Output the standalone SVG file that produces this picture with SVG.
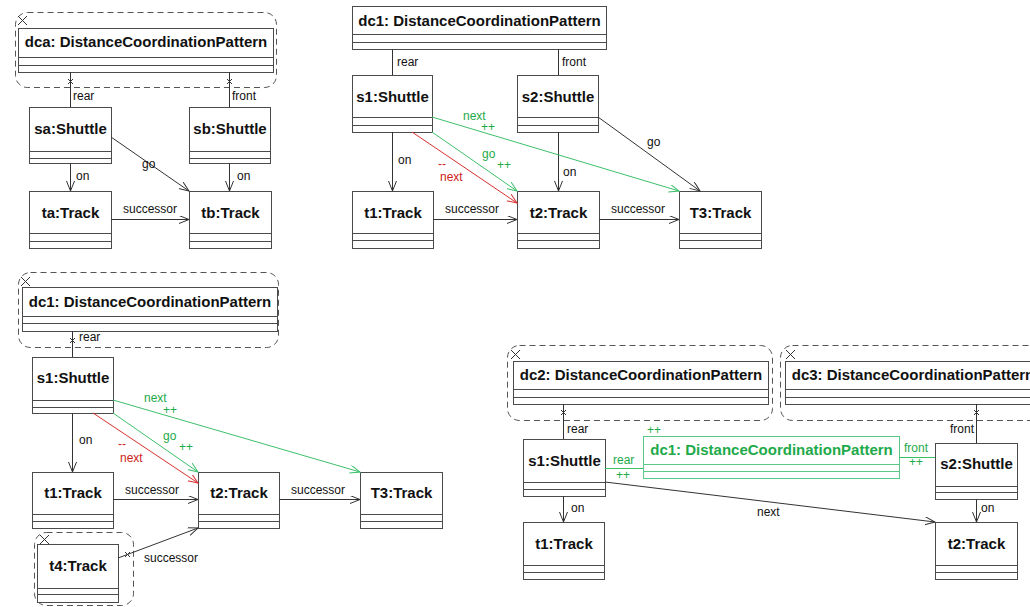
<svg xmlns="http://www.w3.org/2000/svg" width="1030" height="607" viewBox="0 0 1030 607">
  <style>
    .box { fill: #ffffff; stroke: #4a4a4a; stroke-width: 1; }
    .sep { stroke: #4a4a4a; stroke-width: 1; }
    .gbox { fill: #ffffff; stroke: #5cc887; stroke-width: 1; }
    .gsep { stroke: #5cc887; stroke-width: 1; }
    .cont { fill: none; stroke: #555555; stroke-width: 1; stroke-dasharray: 6 4; }
    .name { font-family: "Liberation Sans", Arial, sans-serif; font-size: 15px; font-weight: bold; fill: #111111; text-anchor: middle; }
    .gname { font-family: "Liberation Sans", Arial, sans-serif; font-size: 15px; font-weight: bold; fill: #1eaa4a; text-anchor: middle; }
    .lbl { font-family: "Liberation Sans", Arial, sans-serif; font-size: 12px; fill: #111111; }
    .glbl { font-family: "Liberation Sans", Arial, sans-serif; font-size: 12px; fill: #1eaa4a; }
    .rlbl { font-family: "Liberation Sans", Arial, sans-serif; font-size: 12px; fill: #cc2222; }
    .edge { fill: none; stroke: #333333; stroke-width: 1; }
    .gedge { fill: none; stroke: #3dbf6a; stroke-width: 1; }
    .redge { fill: none; stroke: #d83030; stroke-width: 1; }
    .xm { stroke: #333333; stroke-width: 1; }
  </style>
  <defs>
    <marker id="arr" markerUnits="userSpaceOnUse" markerWidth="12" markerHeight="10" refX="10" refY="4" orient="auto">
      <path d="M0,0 L10,4 L0,8" fill="none" stroke="#333333" stroke-width="1"/>
    </marker>
    <marker id="garr" markerUnits="userSpaceOnUse" markerWidth="12" markerHeight="10" refX="10" refY="4" orient="auto">
      <path d="M0,0 L10,4 L0,8" fill="none" stroke="#3dbf6a" stroke-width="1"/>
    </marker>
    <marker id="rarr" markerUnits="userSpaceOnUse" markerWidth="12" markerHeight="10" refX="10" refY="4" orient="auto">
      <path d="M0,0 L10,4 L0,8" fill="none" stroke="#d83030" stroke-width="1"/>
    </marker>
  </defs>
  <rect width="1030" height="607" fill="#ffffff"/>

  <!-- ===== upper left pattern ===== -->
  <g id="tl-dca">
    <rect class="cont" x="15.5" y="12.5" width="261" height="75" rx="12"/>
    <path class="xm" d="M18,16 L27,25 M27,16 L18,25"/>
    <rect class="box" x="18.5" y="28.5" width="255" height="44"/>
    <line class="sep" x1="18.5" y1="57.5" x2="273.5" y2="57.5"/>
    <line class="sep" x1="18.5" y1="65.5" x2="273.5" y2="65.5"/>
    <text class="name" x="146" y="47">dca: DistanceCoordinationPattern</text>
  </g>
  <g id="tl-sa">
    <rect class="box" x="29.5" y="107.5" width="82" height="56"/>
    <line class="sep" x1="29.5" y1="151.5" x2="111.5" y2="151.5"/>
    <line class="sep" x1="29.5" y1="158.5" x2="111.5" y2="158.5"/>
    <text class="name" x="70.5" y="134">sa:Shuttle</text>
  </g>
  <g id="tl-sb">
    <rect class="box" x="189.5" y="107.5" width="81" height="56"/>
    <line class="sep" x1="189.5" y1="151.5" x2="270.5" y2="151.5"/>
    <line class="sep" x1="189.5" y1="158.5" x2="270.5" y2="158.5"/>
    <text class="name" x="230" y="134">sb:Shuttle</text>
  </g>
  <g id="tl-ta">
    <rect class="box" x="29.5" y="191.5" width="82" height="57"/>
    <line class="sep" x1="29.5" y1="233.5" x2="111.5" y2="233.5"/>
    <line class="sep" x1="29.5" y1="241.5" x2="111.5" y2="241.5"/>
    <text class="name" x="70.5" y="218">ta:Track</text>
  </g>
  <g id="tl-tb">
    <rect class="box" x="189.5" y="191.5" width="82" height="57"/>
    <line class="sep" x1="189.5" y1="233.5" x2="271.5" y2="233.5"/>
    <line class="sep" x1="189.5" y1="241.5" x2="271.5" y2="241.5"/>
    <text class="name" x="230.5" y="218">tb:Track</text>
  </g>
  <g id="tl-edges">
    <line class="edge" x1="70.5" y1="72" x2="70.5" y2="107"/>
    <path class="xm" d="M68,79 L73,84 M73,79 L68,84"/>
    <text class="lbl" x="73" y="100">rear</text>
    <line class="edge" x1="229.5" y1="72" x2="229.5" y2="107"/>
    <path class="xm" d="M227,79 L232,84 M232,79 L227,84"/>
    <text class="lbl" x="232" y="100">front</text>
    <line class="edge" x1="70.5" y1="163" x2="70.5" y2="191" marker-end="url(#arr)"/>
    <text class="lbl" x="76" y="180">on</text>
    <line class="edge" x1="229.5" y1="163" x2="229.5" y2="191" marker-end="url(#arr)"/>
    <text class="lbl" x="237" y="180">on</text>
    <line class="edge" x1="111" y1="137" x2="189" y2="191" marker-end="url(#arr)"/>
    <text class="lbl" x="142" y="168">go</text>
    <line class="edge" x1="111" y1="219.5" x2="189" y2="219.5" marker-end="url(#arr)"/>
    <text class="lbl" x="123" y="213">successor</text>
  </g>

  <!-- ===== upper middle pattern ===== -->
  <g id="tm-dc1">
    <rect class="box" x="352.5" y="6.5" width="254" height="43"/>
    <line class="sep" x1="352.5" y1="34.5" x2="606.5" y2="34.5"/>
    <line class="sep" x1="352.5" y1="42.5" x2="606.5" y2="42.5"/>
    <text class="name" x="479.5" y="25.5">dc1: DistanceCoordinationPattern</text>
  </g>
  <g id="tm-s1">
    <rect class="box" x="352.5" y="75.5" width="80" height="57"/>
    <line class="sep" x1="352.5" y1="117.5" x2="432.5" y2="117.5"/>
    <line class="sep" x1="352.5" y1="125.5" x2="432.5" y2="125.5"/>
    <text class="name" x="392.5" y="102">s1:Shuttle</text>
  </g>
  <g id="tm-s2">
    <rect class="box" x="517.5" y="75.5" width="81" height="57"/>
    <line class="sep" x1="517.5" y1="117.5" x2="598.5" y2="117.5"/>
    <line class="sep" x1="517.5" y1="125.5" x2="598.5" y2="125.5"/>
    <text class="name" x="558" y="102">s2:Shuttle</text>
  </g>
  <g id="tm-t1">
    <rect class="box" x="352.5" y="191.5" width="81" height="57"/>
    <line class="sep" x1="352.5" y1="233.5" x2="433.5" y2="233.5"/>
    <line class="sep" x1="352.5" y1="240.5" x2="433.5" y2="240.5"/>
    <text class="name" x="393" y="218">t1:Track</text>
  </g>
  <g id="tm-t2">
    <rect class="box" x="517.5" y="191.5" width="82" height="57"/>
    <line class="sep" x1="517.5" y1="233.5" x2="599.5" y2="233.5"/>
    <line class="sep" x1="517.5" y1="240.5" x2="599.5" y2="240.5"/>
    <text class="name" x="558.5" y="218">t2:Track</text>
  </g>
  <g id="tm-t3">
    <rect class="box" x="679.5" y="191.5" width="82" height="57"/>
    <line class="sep" x1="679.5" y1="233.5" x2="761.5" y2="233.5"/>
    <line class="sep" x1="679.5" y1="240.5" x2="761.5" y2="240.5"/>
    <text class="name" x="720.5" y="218">T3:Track</text>
  </g>
  <g id="tm-edges">
    <line class="edge" x1="392.5" y1="49" x2="392.5" y2="75"/>
    <text class="lbl" x="397" y="66">rear</text>
    <line class="edge" x1="558.5" y1="49" x2="558.5" y2="75"/>
    <text class="lbl" x="562" y="66">front</text>
    <line class="edge" x1="392.5" y1="132" x2="392.5" y2="191" marker-end="url(#arr)"/>
    <text class="lbl" x="398" y="164">on</text>
    <line class="edge" x1="558.5" y1="132" x2="558.5" y2="191" marker-end="url(#arr)"/>
    <text class="lbl" x="563" y="176">on</text>
    <line class="edge" x1="598" y1="117" x2="700" y2="191" marker-end="url(#arr)"/>
    <text class="lbl" x="647" y="146">go</text>
    <line class="edge" x1="433" y1="219.5" x2="517" y2="219.5" marker-end="url(#arr)"/>
    <text class="lbl" x="445" y="213">successor</text>
    <line class="edge" x1="599" y1="219.5" x2="679" y2="219.5" marker-end="url(#arr)"/>
    <text class="lbl" x="611" y="213">successor</text>
    <line class="redge" x1="412" y1="132" x2="517" y2="203" marker-end="url(#rarr)"/>
    <text class="rlbl" x="438" y="168">--</text>
    <text class="rlbl" x="440" y="181">next</text>
    <line class="gedge" x1="432" y1="132" x2="517" y2="191" marker-end="url(#garr)"/>
    <text class="glbl" x="482" y="158">go</text>
    <text class="glbl" x="497" y="169">++</text>
    <line class="gedge" x1="432" y1="117" x2="679" y2="191" marker-end="url(#garr)"/>
    <text class="glbl" x="463" y="120">next</text>
    <text class="glbl" x="481" y="131">++</text>
  </g>

  <!-- ===== lower left pattern ===== -->
  <g id="bl-dc1">
    <rect class="cont" x="18.5" y="272.5" width="260" height="75" rx="12"/>
    <path class="xm" d="M21,277 L30,286 M30,277 L21,286"/>
    <rect class="box" x="22.5" y="287.5" width="255" height="44"/>
    <line class="sep" x1="22.5" y1="316.5" x2="277.5" y2="316.5"/>
    <line class="sep" x1="22.5" y1="323.5" x2="277.5" y2="323.5"/>
    <text class="name" x="150" y="307">dc1: DistanceCoordinationPattern</text>
  </g>
  <g id="bl-s1">
    <rect class="box" x="32.5" y="357.5" width="81" height="56"/>
    <line class="sep" x1="32.5" y1="400.5" x2="113.5" y2="400.5"/>
    <line class="sep" x1="32.5" y1="407.5" x2="113.5" y2="407.5"/>
    <text class="name" x="73" y="383">s1:Shuttle</text>
  </g>
  <g id="bl-t1">
    <rect class="box" x="32.5" y="472.5" width="81" height="56"/>
    <line class="sep" x1="32.5" y1="514.5" x2="113.5" y2="514.5"/>
    <line class="sep" x1="32.5" y1="521.5" x2="113.5" y2="521.5"/>
    <text class="name" x="73" y="498">t1:Track</text>
  </g>
  <g id="bl-t2">
    <rect class="box" x="198.5" y="472.5" width="81" height="56"/>
    <line class="sep" x1="198.5" y1="514.5" x2="279.5" y2="514.5"/>
    <line class="sep" x1="198.5" y1="521.5" x2="279.5" y2="521.5"/>
    <text class="name" x="239" y="498">t2:Track</text>
  </g>
  <g id="bl-t3">
    <rect class="box" x="360.5" y="472.5" width="82" height="56"/>
    <line class="sep" x1="360.5" y1="514.5" x2="442.5" y2="514.5"/>
    <line class="sep" x1="360.5" y1="521.5" x2="442.5" y2="521.5"/>
    <text class="name" x="401.5" y="498">T3:Track</text>
  </g>
  <g id="bl-t4">
    <rect class="cont" x="34.5" y="532.5" width="99" height="73" rx="12"/>
    <path class="xm" d="M40,535 L49,544 M49,535 L40,544"/>
    <rect class="box" x="37.5" y="544.5" width="81" height="58"/>
    <line class="sep" x1="37.5" y1="588.5" x2="118.5" y2="588.5"/>
    <line class="sep" x1="37.5" y1="594.5" x2="118.5" y2="594.5"/>
    <text class="name" x="78" y="571">t4:Track</text>
  </g>
  <g id="bl-edges">
    <line class="edge" x1="72.5" y1="331" x2="72.5" y2="357"/>
    <path class="xm" d="M70,338 L75,343 M75,338 L70,343"/>
    <text class="lbl" x="79" y="341">rear</text>
    <line class="edge" x1="72.5" y1="413" x2="72.5" y2="472" marker-end="url(#arr)"/>
    <text class="lbl" x="79" y="444">on</text>
    <line class="edge" x1="113" y1="499.5" x2="198" y2="499.5" marker-end="url(#arr)"/>
    <text class="lbl" x="125" y="494">successor</text>
    <line class="edge" x1="279" y1="499.5" x2="360" y2="499.5" marker-end="url(#arr)"/>
    <text class="lbl" x="291" y="494">successor</text>
    <line class="edge" x1="118" y1="558" x2="198" y2="528" marker-end="url(#arr)"/>
    <path class="xm" d="M125,552 L130,557 M130,552 L125,557"/>
    <text class="lbl" x="144" y="562">successor</text>
    <line class="redge" x1="93" y1="413" x2="198" y2="483" marker-end="url(#rarr)"/>
    <text class="rlbl" x="118" y="448">--</text>
    <text class="rlbl" x="120" y="462">next</text>
    <line class="gedge" x1="113" y1="413" x2="198" y2="472" marker-end="url(#garr)"/>
    <text class="glbl" x="163" y="440">go</text>
    <text class="glbl" x="179" y="451">++</text>
    <line class="gedge" x1="113" y1="400" x2="360" y2="472" marker-end="url(#garr)"/>
    <text class="glbl" x="144" y="402">next</text>
    <text class="glbl" x="163" y="414">++</text>
  </g>

  <!-- ===== lower right pattern ===== -->
  <g id="br-dc2">
    <rect class="cont" x="507.5" y="345.5" width="265" height="75" rx="12"/>
    <path class="xm" d="M511,350 L520,359 M520,350 L511,359"/>
    <rect class="box" x="513.5" y="361.5" width="255" height="43"/>
    <line class="sep" x1="513.5" y1="389.5" x2="768.5" y2="389.5"/>
    <line class="sep" x1="513.5" y1="397.5" x2="768.5" y2="397.5"/>
    <text class="name" x="641" y="380">dc2: DistanceCoordinationPattern</text>
  </g>
  <g id="br-dc3">
    <rect class="cont" x="780.5" y="345.5" width="265" height="75" rx="12"/>
    <path class="xm" d="M786,350 L795,359 M795,350 L786,359"/>
    <rect class="box" x="785.5" y="361.5" width="255" height="43"/>
    <line class="sep" x1="785.5" y1="389.5" x2="1040.5" y2="389.5"/>
    <line class="sep" x1="785.5" y1="397.5" x2="1040.5" y2="397.5"/>
    <text class="name" x="913" y="380">dc3: DistanceCoordinationPattern</text>
  </g>
  <g id="br-s1">
    <rect class="box" x="523.5" y="439.5" width="82" height="57"/>
    <line class="sep" x1="523.5" y1="482.5" x2="605.5" y2="482.5"/>
    <line class="sep" x1="523.5" y1="489.5" x2="605.5" y2="489.5"/>
    <text class="name" x="564.5" y="466">s1:Shuttle</text>
  </g>
  <g id="br-dc1">
    <rect class="gbox" x="643.5" y="436.5" width="256" height="42"/>
    <line class="gsep" x1="643.5" y1="464.5" x2="899.5" y2="464.5"/>
    <line class="gsep" x1="643.5" y1="471.5" x2="899.5" y2="471.5"/>
    <text class="gname" x="771.5" y="455">dc1: DistanceCoordinationPattern</text>
    <text class="glbl" x="647" y="434">++</text>
  </g>
  <g id="br-s2">
    <rect class="box" x="935.5" y="443.5" width="82" height="56"/>
    <line class="sep" x1="935.5" y1="486.5" x2="1017.5" y2="486.5"/>
    <line class="sep" x1="935.5" y1="492.5" x2="1017.5" y2="492.5"/>
    <text class="name" x="976.5" y="469">s2:Shuttle</text>
  </g>
  <g id="br-t1">
    <rect class="box" x="523.5" y="522.5" width="81" height="57"/>
    <line class="sep" x1="523.5" y1="565.5" x2="604.5" y2="565.5"/>
    <line class="sep" x1="523.5" y1="572.5" x2="604.5" y2="572.5"/>
    <text class="name" x="564" y="549">t1:Track</text>
  </g>
  <g id="br-t2">
    <rect class="box" x="935.5" y="522.5" width="82" height="57"/>
    <line class="sep" x1="935.5" y1="565.5" x2="1017.5" y2="565.5"/>
    <line class="sep" x1="935.5" y1="572.5" x2="1017.5" y2="572.5"/>
    <text class="name" x="976.5" y="549">t2:Track</text>
  </g>
  <g id="br-edges">
    <line class="edge" x1="563.5" y1="404" x2="563.5" y2="439"/>
    <path class="xm" d="M561,410 L566,415 M566,410 L561,415"/>
    <text class="lbl" x="567" y="433">rear</text>
    <line class="edge" x1="976.5" y1="404" x2="976.5" y2="443"/>
    <path class="xm" d="M974,410 L979,415 M979,410 L974,415"/>
    <text class="lbl" x="950" y="433">front</text>
    <line class="gedge" x1="605" y1="468.5" x2="643" y2="468.5"/>
    <text class="glbl" x="613" y="464">rear</text>
    <text class="glbl" x="616" y="479">++</text>
    <line class="gedge" x1="899" y1="457.5" x2="935" y2="457.5"/>
    <text class="glbl" x="904" y="452">front</text>
    <text class="glbl" x="909" y="466">++</text>
    <line class="edge" x1="563.5" y1="496" x2="563.5" y2="522" marker-end="url(#arr)"/>
    <text class="lbl" x="571" y="512">on</text>
    <line class="edge" x1="976.5" y1="499" x2="976.5" y2="522" marker-end="url(#arr)"/>
    <text class="lbl" x="981" y="512">on</text>
    <line class="edge" x1="605" y1="482" x2="935" y2="522" marker-end="url(#arr)"/>
    <text class="lbl" x="757" y="516">next</text>
  </g>
</svg>
